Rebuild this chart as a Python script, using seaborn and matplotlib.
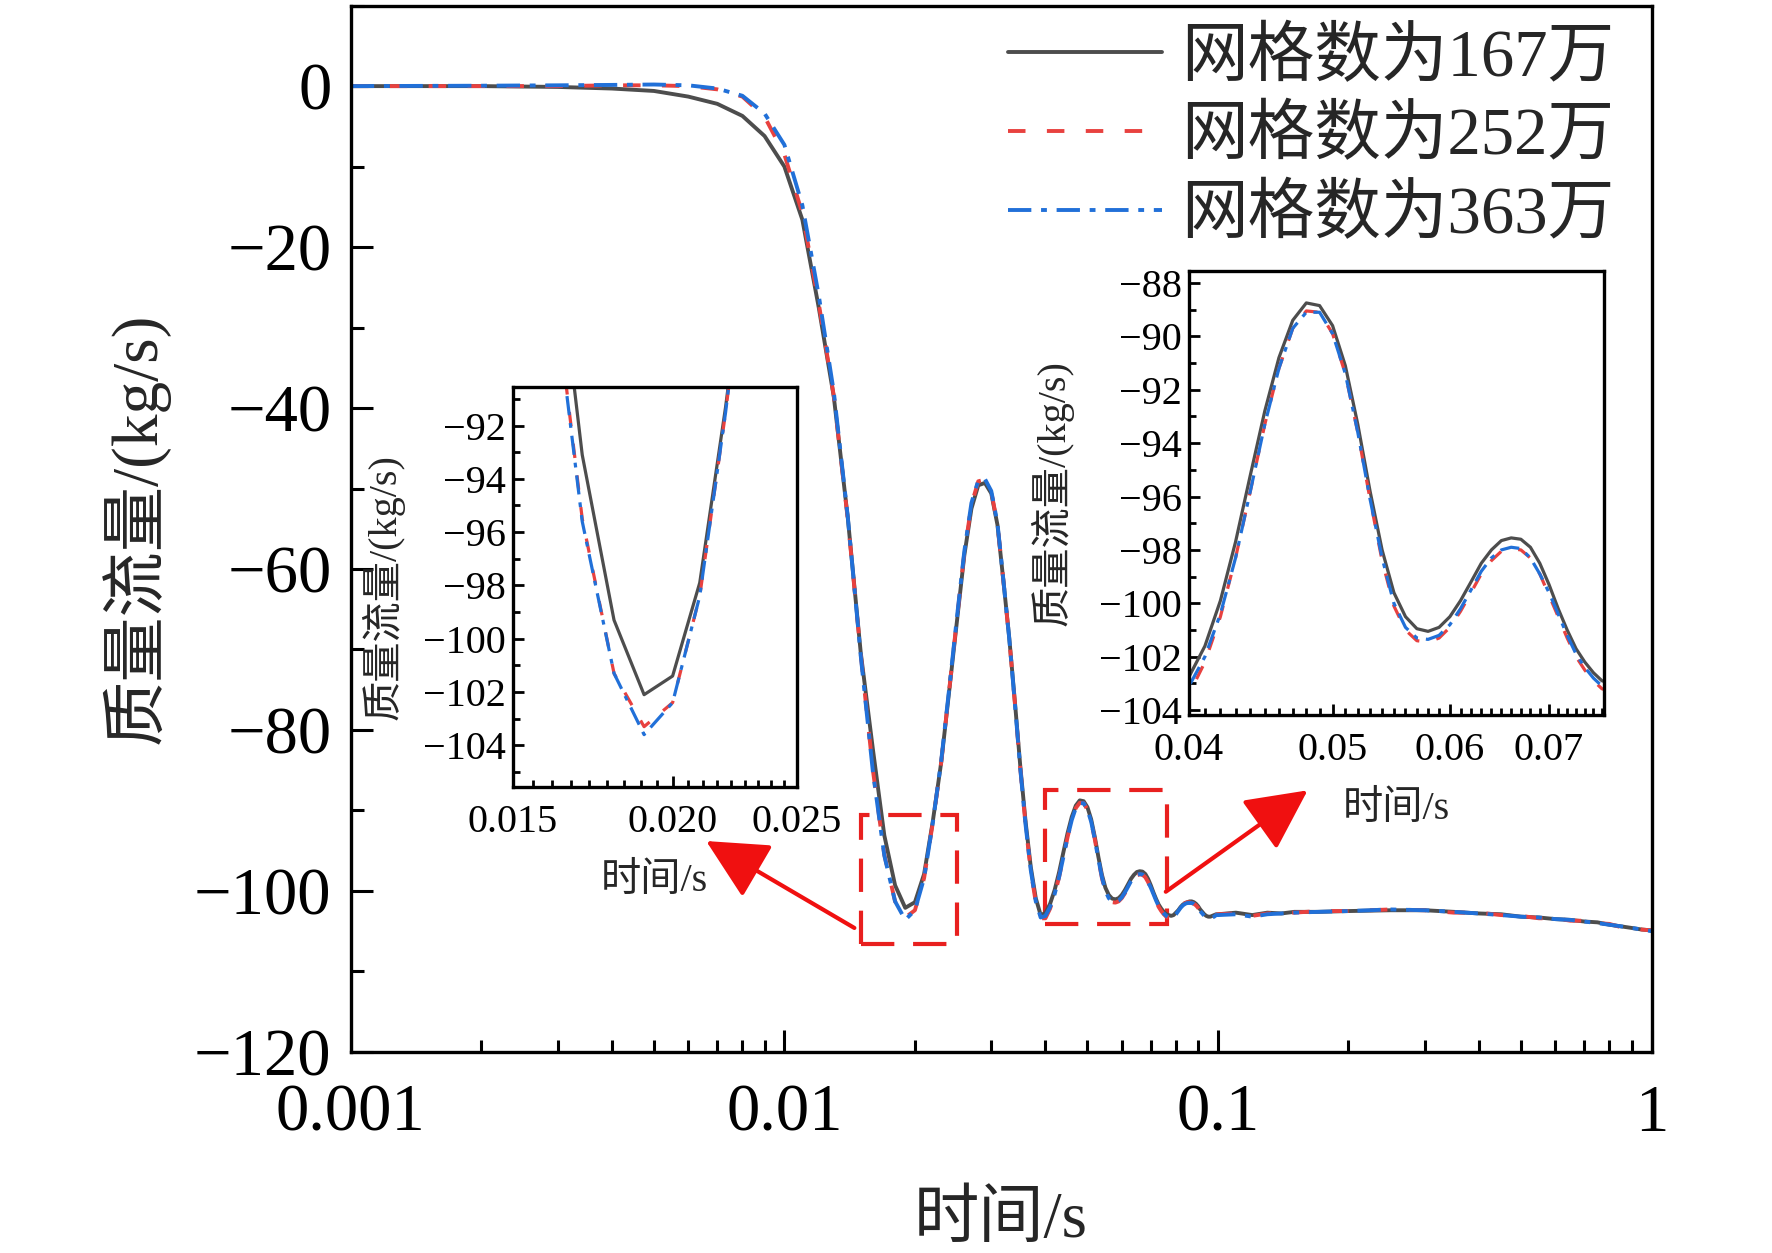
import numpy as np
import matplotlib
matplotlib.use("Agg")
import matplotlib.pyplot as plt
import matplotlib.ticker as mticker
from matplotlib.patches import Rectangle
import seaborn as sns

# time points (s)
time_s = [0.001, 0.002, 0.003, 0.004, 0.005, 0.006, 0.007, 0.008, 0.009, 0.010,
          0.011, 0.012, 0.013, 0.014, 0.015, 0.016, 0.017, 0.018, 0.019, 0.020,
          0.021, 0.022, 0.023, 0.024, 0.025, 0.026, 0.027, 0.028, 0.029, 0.030,
          0.031, 0.032, 0.033, 0.034, 0.035, 0.036, 0.037, 0.038, 0.039, 0.040,
          0.041, 0.042, 0.043, 0.044, 0.045, 0.046, 0.047, 0.048, 0.049, 0.050,
          0.051, 0.052, 0.053, 0.054, 0.055, 0.056, 0.057, 0.058, 0.059, 0.060,
          0.061, 0.062, 0.063, 0.064, 0.065, 0.066, 0.067, 0.068, 0.069, 0.070,
          0.071, 0.072, 0.073, 0.074, 0.075, 0.076, 0.077, 0.078, 0.079, 0.080,
          0.081, 0.082, 0.083, 0.084, 0.085, 0.086, 0.087, 0.088, 0.089, 0.090,
          0.091, 0.092, 0.093, 0.094, 0.095, 0.096, 0.097, 0.098, 0.099, 0.100,
          0.11, 0.12, 0.13, 0.14, 0.15, 0.17, 0.20, 0.25, 0.30, 0.35, 0.40, 0.45,
          0.50, 0.55, 0.60, 0.65, 0.70, 0.75, 0.80, 0.85, 0.90, 0.95, 1.00]

# mass flow (kg/s), 1.67 million cells
flow_167 = [0.0, 0.0, -0.1, -0.3, -0.6, -1.3, -2.2, -3.7, -6.2, -10.0,
            -16.6, -27.5, -38.6, -53.6, -70.4, -82.4, -93.1, -99.3, -102.1, -101.4,
            -97.9, -91.3, -84.0, -75.1, -66.5, -58.3, -52.5, -49.6, -49.3, -50.6,
            -54.5, -61.5, -68.5, -76.4, -84.5, -91.4, -97.0, -100.9, -103.0, -102.75,
            -101.6, -99.9, -97.7, -95.2, -92.8, -90.8, -89.4, -88.75, -88.85, -89.6,
            -91.1, -93.3, -95.8, -98.0, -99.6, -100.5, -100.95, -101.05, -100.9, -100.5,
            -99.9, -99.2, -98.5, -98.0, -97.65, -97.55, -97.6, -97.9, -98.5, -99.3,
            -100.2, -101.0, -101.7, -102.2, -102.6, -102.9, -103.0, -103.1, -103.0, -102.7,
            -102.4, -102.0, -101.7, -101.5, -101.4, -101.3, -101.3, -101.4, -101.6, -101.9,
            -102.3, -102.6, -102.9, -103.1, -103.2, -103.2, -103.1, -103.0, -102.9, -102.9,
            -102.7, -103.0, -102.7, -102.8, -102.6, -102.6, -102.5, -102.4, -102.4, -102.6,
            -102.8, -102.9, -103.2, -103.3, -103.5, -103.6, -103.8, -103.9, -104.2, -104.4,
            -104.6, -104.8, -104.9]

# 2.52 million cells
flow_252 = [0.0, 0.0, 0.0, 0.1, 0.1, 0.0, -0.4, -1.3, -3.8, -8.5,
            -15.8, -27.0, -38.5, -53.8, -70.6, -85.0, -95.5, -101.3, -103.3, -102.4,
            -98.4, -91.5, -84.0, -75.0, -66.2, -58.0, -52.0, -49.1, -48.9, -50.4,
            -54.4, -61.5, -68.6, -76.6, -84.8, -91.8, -97.5, -101.4, -103.4, -103.4,
            -102.2, -100.5, -98.3, -95.8, -93.3, -91.2, -89.7, -89.05, -89.1, -89.9,
            -91.4, -93.6, -96.1, -98.4, -100.1, -101.0, -101.4, -101.45, -101.3, -100.9,
            -100.3, -99.6, -98.9, -98.4, -98.05, -97.95, -98.0, -98.3, -98.9, -99.7,
            -100.5, -101.3, -102.0, -102.5, -102.9, -103.2, -103.3, -103.3, -103.1, -102.8,
            -102.4, -102.0, -101.7, -101.5, -101.4, -101.4, -101.5, -101.6, -101.8, -102.1,
            -102.5, -102.8, -103.1, -103.3, -103.4, -103.4, -103.3, -103.1, -103.0, -102.9,
            -102.8, -103.1, -102.8, -102.7, -102.7, -102.5, -102.5, -102.3, -102.4, -102.7,
            -102.7, -103.0, -103.1, -103.4, -103.4, -103.7, -103.7, -104.0, -104.1, -104.5,
            -104.5, -104.8, -104.9]

# 3.63 million cells
flow_363 = [0.0, 0.05, 0.1, 0.15, 0.2, 0.1, -0.3, -1.2, -3.4, -7.3,
            -14.8, -26.0, -38.0, -53.5, -70.8, -85.2, -95.6, -101.3, -103.6, -102.4,
            -98.4, -91.5, -83.8, -74.8, -66.0, -57.8, -51.8, -49.0, -48.8, -50.3,
            -54.3, -61.4, -68.6, -76.6, -84.8, -91.8, -97.4, -101.3, -103.3, -103.1,
            -102.0, -100.4, -98.3, -95.8, -93.3, -91.2, -89.7, -89.1, -89.1, -89.9,
            -91.4, -93.6, -96.1, -98.3, -100.0, -100.9, -101.3, -101.35, -101.2, -100.8,
            -100.2, -99.5, -98.8, -98.3, -98.0, -97.9, -97.95, -98.3, -98.9, -99.6,
            -100.4, -101.2, -101.9, -102.4, -102.8, -103.1, -103.3, -103.3, -103.2, -102.9,
            -102.5, -102.1, -101.8, -101.6, -101.5, -101.5, -101.5, -101.6, -101.8, -102.1,
            -102.5, -102.8, -103.1, -103.3, -103.4, -103.4, -103.3, -103.2, -103.0, -103.0,
            -102.9, -103.2, -102.9, -102.8, -102.7, -102.6, -102.5, -102.3, -102.4, -102.6,
            -102.8, -103.0, -103.2, -103.3, -103.5, -103.6, -103.8, -104.0, -104.2, -104.4,
            -104.6, -104.8, -105.0]

labels = ["网格数为167万", "网格数为252万", "网格数为363万"]
colors = ["#4d4d4d", "#e8413f", "#2170d8"]
styles = ["-", (0, (4.5, 5.5)), (0, (6, 2.5, 1.5, 2.5))]
series = [flow_167, flow_252, flow_363]

# zoom windows
zoom1_x = (0.015, 0.025)
zoom1_y = (-105.56, -90.56)
zoom2_x = (0.04, 0.0762)
zoom2_y = (-104.19, -87.56)

sns.set_theme(style="ticks")
plt.rcParams["font.family"] = ["Liberation Serif", "Noto Sans CJK SC"]
plt.rcParams["axes.unicode_minus"] = True
plt.rcParams["xtick.direction"] = "in"
plt.rcParams["ytick.direction"] = "in"
plt.rcParams["axes.edgecolor"] = "black"
plt.rcParams["xtick.color"] = "black"
plt.rcParams["ytick.color"] = "black"

fig = plt.figure(figsize=(17.72, 12.53), dpi=100)
ax = fig.add_axes([0.198, 0.1605, 0.734, 0.835])

for y, lab, c, ls in zip(series, labels, colors, styles):
    sns.lineplot(x=time_s, y=y, ax=ax, color=c, linestyle=ls, linewidth=2.8, label=lab)

ax.set_xscale("log")
ax.set_xlim(0.001, 1)
ax.set_ylim(-120, 10)
ax.xaxis.set_major_locator(mticker.FixedLocator([0.001, 0.01, 0.1, 1]))
ax.xaxis.set_major_formatter(mticker.FixedFormatter(["0.001", "0.01", "0.1", "1"]))
ax.xaxis.set_minor_locator(mticker.LogLocator(base=10, subs=np.arange(2, 10)))
ax.xaxis.set_minor_formatter(mticker.NullFormatter())
ax.yaxis.set_major_locator(mticker.MultipleLocator(20))
ax.yaxis.set_minor_locator(mticker.MultipleLocator(10))
ax.tick_params(which="major", length=16, width=2.2, labelsize=48)
ax.tick_params(axis="x", which="major", pad=23)
ax.tick_params(axis="y", which="major", pad=14)
ax.tick_params(which="minor", length=9, width=2.2)
for s in ax.spines.values():
    s.set_linewidth(2.4)
ax.set_xlabel("时间/s", fontsize=47)
ax.set_ylabel("质量流量/(kg/s)", fontsize=47)
ax.xaxis.set_label_coords(0.5, -0.133)
ax.yaxis.set_label_coords(-0.139, 0.5)

ax.legend(loc="upper left", bbox_to_anchor=(0.569, 0.978), bbox_transform=fig.transFigure,
          frameon=False, fontsize=48, handlelength=2.3, handletextpad=0.3,
          labelspacing=0.25, borderpad=0, borderaxespad=0)

# dashed boxes and arrows
ax.add_patch(Rectangle((zoom1_x[0], -106.6), zoom1_x[1] - zoom1_x[0], 16.0,
                       fill=False, edgecolor="#e8201f", linewidth=3.0, linestyle=(0, (8, 4.5))))
ax.add_patch(Rectangle((zoom2_x[0], -104.1), zoom2_x[1] - zoom2_x[0], 16.7,
                       fill=False, edgecolor="#e8201f", linewidth=3.0, linestyle=(0, (8, 4.5))))
arrow = dict(arrowstyle="-|>,head_length=1.0,head_width=0.5", color="#f01010",
             lw=3.0, mutation_scale=38, shrinkA=0, shrinkB=0)
ax.annotate("", xy=(0.0066, -93.8), xytext=(0.0145, -104.6), arrowprops=arrow,
            annotation_clip=False)
ax.annotate("", xy=(0.161, -87.5), xytext=(0.0758, -100.1), arrowprops=arrow,
            annotation_clip=False)


def style_inset(axi, xlim, ylim, xmajor, xlabels, xminor, ymajor):
    axi.set_xscale("log")
    axi.set_xlim(*xlim)
    axi.set_ylim(*ylim)
    axi.xaxis.set_major_locator(mticker.FixedLocator(xmajor))
    axi.xaxis.set_major_formatter(mticker.FixedFormatter(xlabels))
    axi.xaxis.set_minor_locator(mticker.FixedLocator(xminor))
    axi.xaxis.set_minor_formatter(mticker.NullFormatter())
    axi.yaxis.set_major_locator(mticker.FixedLocator(ymajor))
    axi.yaxis.set_minor_locator(mticker.MultipleLocator(1))
    axi.tick_params(which="major", length=8, width=2.0, labelsize=29)
    axi.tick_params(axis="x", which="major", pad=12)
    axi.tick_params(axis="y", which="major", pad=5)
    axi.tick_params(which="minor", length=5, width=2.0)
    for s in axi.spines.values():
        s.set_linewidth(2.4)
    axi.set_xlabel("时间/s", fontsize=29)
    axi.set_ylabel("质量流量/(kg/s)", fontsize=29)
    axi.set_facecolor("white")


# left inset
ax1 = fig.add_axes([0.2893, 0.372, 0.1603, 0.319])
for y, c, ls in zip(series, colors, styles):
    sns.lineplot(x=time_s, y=y, ax=ax1, color=c, linestyle=ls, linewidth=2.3)
minor1 = [v for v in np.concatenate([np.linspace(0.015, 0.020, 10)[1:-1],
                                     np.linspace(0.020, 0.025, 10)[1:-1]])]
style_inset(ax1, zoom1_x, zoom1_y, [0.015, 0.020, 0.025], ["0.015", "0.020", "0.025"],
            minor1, [-92, -94, -96, -98, -100, -102, -104])
ax1.xaxis.set_label_coords(0.5, -0.19)
ax1.yaxis.set_label_coords(-0.38, 0.5)

# right inset
ax2 = fig.add_axes([0.671, 0.4292, 0.234, 0.3544])
for y, c, ls in zip(series, colors, styles):
    sns.lineplot(x=time_s, y=y, ax=ax2, color=c, linestyle=ls, linewidth=2.3)
minor2 = [v / 1000 for v in range(41, 77) if v % 10 != 0]
style_inset(ax2, zoom2_x, zoom2_y, [0.04, 0.05, 0.06, 0.07], ["0.04", "0.05", "0.06", "0.07"],
            minor2, [-88, -90, -92, -94, -96, -98, -100, -102, -104])
ax2.xaxis.set_label_coords(0.5, -0.17)
ax2.yaxis.set_label_coords(-0.278, 0.5)

fig.savefig("out.png", dpi=100, facecolor="white")
